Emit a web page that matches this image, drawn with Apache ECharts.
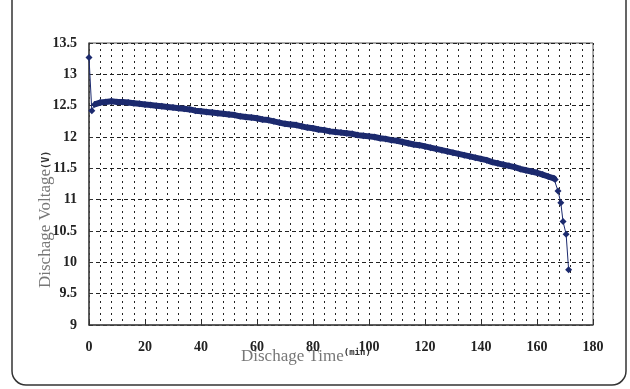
<!DOCTYPE html>
<html><head><meta charset="utf-8">
<script src="https://cdn.jsdelivr.net/npm/echarts@6/dist/echarts.min.js"></script>
<style>html,body{margin:0;padding:0;background:#fff}#c{width:630px;height:389px}</style>
</head><body><div id="c"></div>
<script>
var times = [0,1,2,4,6,8,10,12,14,16,18,20,22,24,26,28,30,32,34,36,38,40,42,44,46,48,50,52,54,56,58,60,62,64,66,68,70,72,74,76,78,80,82,84,86,88,90,92,94,96,98,100,102,104,106,108,110,112,114,116,118,120,122,124,126,128,130,132,134,136,138,140,142,144,146,148,150,152,154,156,158,160,162,164,166,166.5,167.5,168.5,169.3,170.4,171.3];
var voltages = [13.27,12.42,12.52,12.55,12.56,12.57,12.56,12.56,12.55,12.54,12.53,12.52,12.51,12.50,12.49,12.48,12.47,12.46,12.45,12.44,12.42,12.41,12.40,12.39,12.38,12.37,12.36,12.35,12.33,12.32,12.31,12.30,12.28,12.27,12.25,12.23,12.21,12.20,12.19,12.17,12.15,12.14,12.12,12.11,12.09,12.08,12.07,12.06,12.05,12.03,12.02,12.01,12.00,11.98,11.97,11.95,11.94,11.92,11.90,11.88,11.87,11.85,11.83,11.81,11.79,11.77,11.75,11.73,11.71,11.69,11.67,11.65,11.63,11.60,11.58,11.56,11.54,11.52,11.49,11.47,11.45,11.43,11.40,11.37,11.34,11.32,11.14,10.95,10.65,10.45,9.88];
var xTicks = [0,20,40,60,80,100,120,140,160,180];
var yTicks = [9,9.5,10,10.5,11,11.5,12,12.5,13,13.5];
var bandStart = 2, bandEnd = 166.5;

var data = times.map(function(t,i){return [t, voltages[i]];});
var band = data.filter(function(d){return d[0]>=bandStart && d[0]<=bandEnd;});
var chart = echarts.init(document.getElementById('c'));
var tickFont = {fontFamily:'Liberation Serif, serif', fontWeight:'bold', fontSize:14, color:'#222'};
chart.setOption({
  animation:false,
  grid:{left:89,right:37,top:43,bottom:64,show:true,borderColor:'#555',borderWidth:1},
  xAxis:{type:'value',min:xTicks[0],max:xTicks[xTicks.length-1],interval:20,
    axisLine:{lineStyle:{color:'#444',width:1.5}},
    axisTick:{inside:true,length:4,lineStyle:{color:'#333'}},
    axisLabel:Object.assign({margin:15},tickFont),
    splitLine:{show:true,lineStyle:{color:'#222',type:[2,4],width:1}},
    minorTick:{show:false,splitNumber:5},
    minorSplitLine:{show:true,lineStyle:{color:'#222',type:[2,4],width:1}}
  },
  yAxis:{type:'value',min:yTicks[0],max:yTicks[yTicks.length-1],interval:0.5,
    axisLine:{show:true,lineStyle:{color:'#444',width:1.5}},
    axisTick:{show:true,inside:true,length:4,lineStyle:{color:'#333'}},
    axisLabel:Object.assign({margin:12},tickFont),
    splitLine:{show:true,lineStyle:{color:'#222',type:[4,3],width:1}}
  },
  series:[
    {type:'line',data:data,symbol:'diamond',symbolSize:7,showSymbol:true,
      itemStyle:{color:'#1c2a6e'},lineStyle:{color:'#1c2a6e',width:1}},
    {type:'line',data:band,symbol:'none',
      lineStyle:{color:'#1c2a6e',width:6}}
  ],
  graphic:[
    {type:'rect',shape:{x:12,y:-30,width:614,height:415,r:14},style:{fill:'none',stroke:'#333',lineWidth:1.5},silent:true},
    {type:'text',x:241,y:357,style:{text:'{t|Dischage Time}{u|(min)}',verticalAlign:'middle',
      rich:{t:{fontFamily:'Liberation Serif, serif',fontSize:17,fill:'#777'},u:{fontFamily:'DejaVu Sans Mono, monospace',fontWeight:'bold',fontSize:9,fill:'#333',verticalAlign:'top'}}}},
    {type:'text',x:46,y:288,rotation:Math.PI/2,style:{text:'{t|Dischage Voltage}{u|(V)}',verticalAlign:'middle',
      rich:{t:{fontFamily:'Liberation Serif, serif',fontSize:17,fill:'#777'},u:{fontFamily:'DejaVu Sans Mono, monospace',fontWeight:'bold',fontSize:10,fill:'#333'}}}}
  ]
});
</script></body></html>
